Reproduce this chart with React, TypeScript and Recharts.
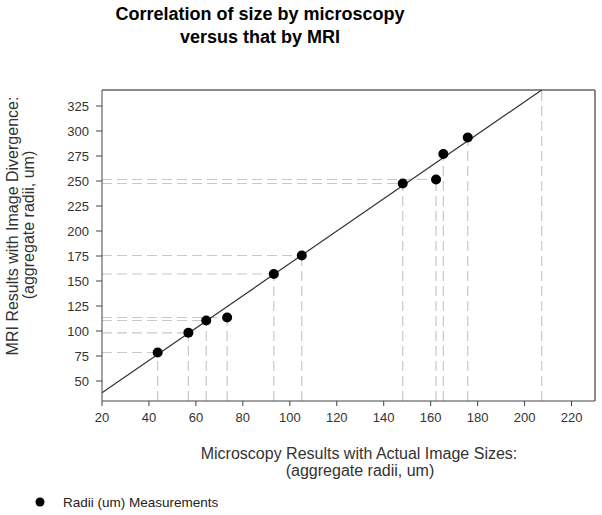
import React from 'react';
import { ScatterChart, Scatter, XAxis, YAxis, ReferenceLine } from 'recharts';

const microscopy = [43.7, 56.8, 64.4, 73.3, 93.2, 105.1, 148.1, 162.3, 165.4, 175.8];
const mri = [78.5, 98.2, 110.5, 113.5, 157, 175.5, 247.5, 251.5, 277, 293.5];
const fitX = [20, 207.3];
const fitY = [38.3, 341];
const xTicks = [20, 40, 60, 80, 100, 120, 140, 160, 180, 200, 220];
const yTicks = [50, 75, 100, 125, 150, 175, 200, 225, 250, 275, 300, 325];
const horizontalGuideCount = 8;

const points = microscopy.map((x, i) => ({ x, y: mri[i] }));
const fit = fitX.map((x, i) => ({ x, y: fitY[i] }));

const X_MIN = 20;
const X_MAX = 230;
const Y_MIN = 30;
const Y_MAX = 341;

const FONT = '"Liberation Sans", Arial, sans-serif';
const guide = { stroke: '#c8c8c8', strokeDasharray: '10 5', strokeWidth: 1.2 };

const Dot = (props: any) => <circle cx={props.cx} cy={props.cy} r={5} fill="#000" />;

export default function App() {
  return (
    <div style={{ position: 'absolute', left: 0, top: 0, width: 602, height: 515, background: '#fff', fontFamily: FONT }}>
      <ScatterChart
        width={602}
        height={515}
        margin={{ top: 90, right: 7, bottom: 84, left: 0 }}
        style={{ fontFamily: FONT }}
      >
        <XAxis
          type="number"
          dataKey="x"
          domain={[X_MIN, X_MAX]}
          ticks={xTicks}
          allowDataOverflow
          height={30}
          tickSize={5}
          tickMargin={7}
          stroke="#444"
          tick={{ fontSize: 13, fill: '#333' }}
        />
        <YAxis
          type="number"
          dataKey="y"
          domain={[Y_MIN, Y_MAX]}
          ticks={yTicks}
          allowDataOverflow
          width={102}
          tickSize={6}
          tickMargin={7}
          stroke="#444"
          tick={{ fontSize: 13, fill: '#333' }}
        />
        {points.slice(0, horizontalGuideCount).map((p, i) => (
          <ReferenceLine key={'h' + i} segment={[{ x: X_MIN, y: p.y }, { x: p.x, y: p.y }]} {...guide} />
        ))}
        {points.map((p, i) => (
          <ReferenceLine key={'v' + i} segment={[{ x: p.x, y: Y_MIN }, { x: p.x, y: p.y }]} {...guide} />
        ))}
        <ReferenceLine segment={[{ x: fit[1].x, y: Y_MIN }, { x: fit[1].x, y: fit[1].y }]} {...guide} />
        <ReferenceLine y={Y_MAX} stroke="#666" strokeWidth={1.5} />
        <ReferenceLine x={X_MAX} stroke="#666" strokeWidth={1.5} />
        <ReferenceLine segment={[fit[0], fit[1]]} stroke="#333" strokeWidth={1.2} />
        <Scatter data={points} shape={Dot} isAnimationActive={false} />
      </ScatterChart>
      <svg width={602} height={515} style={{ position: 'absolute', left: 0, top: 0, pointerEvents: 'none' }}>
        <text x={260} y={20} textAnchor="middle" fontSize={18} fontWeight="bold" fill="#000" fontFamily={FONT}>
          Correlation of size by microscopy
        </text>
        <text x={260} y={42.5} textAnchor="middle" fontSize={18} fontWeight="bold" fill="#000" fontFamily={FONT}>
          versus that by MRI
        </text>
        <text x={359} y={459} textAnchor="middle" fontSize={16} fill="#333" fontFamily={FONT}>
          Microscopy Results with Actual Image Sizes:
        </text>
        <text x={360} y={476} textAnchor="middle" fontSize={16} fill="#333" fontFamily={FONT}>
          (aggregate radii, um)
        </text>
        <g transform="translate(18,226) rotate(-90)">
          <text x={0} y={0} textAnchor="middle" fontSize={16} fill="#333" fontFamily={FONT}>
            MRI Results with Image Divergence:
          </text>
        </g>
        <g transform="translate(34,225) rotate(-90)">
          <text x={0} y={0} textAnchor="middle" fontSize={16} fill="#333" fontFamily={FONT}>
            (aggregate radii, um)
          </text>
        </g>
        <circle cx={40} cy={502} r={4.5} fill="#000" />
        <text x={63} y={506.5} fontSize={13.5} fill="#222" fontFamily={FONT}>
          Radii (um) Measurements
        </text>
      </svg>
    </div>
  );
}
